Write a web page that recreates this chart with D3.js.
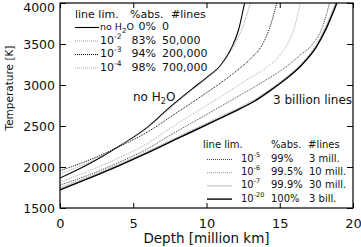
<!DOCTYPE html>
<html>
<head>
<meta charset="utf-8">
<script src="https://cdn.jsdelivr.net/npm/d3@7"></script>
<style>
  body { margin: 0; background: #fff; }
  text { font-family: "DejaVu Sans", sans-serif; fill: #111; }
</style>
</head>
<body>
<script>
// depth [million km], temperature [K]
const noH2O  = [[0,1866],[2,2040],[4,2250],[6,2490],[7.5,2730],[9,2950],[10,3090],[11,3250],[11.7,3450],[12.2,3680],[12.6,4000]];
const lim1e2 = [[0,1915],[2,2060],[4,2250],[6,2480],[7.5,2715],[9,2935],[10,3075],[11,3240],[11.8,3460],[12.5,3720],[13.0,4000]];
const lim1e3 = [[0,1955],[2,2085],[4,2245],[6,2430],[7.5,2605],[9,2785],[10,2905],[11,3030],[12,3165],[13,3320],[13.8,3490],[14.3,3690],[14.8,4000]];
const lim1e4 = [[0,1817],[2,1955],[4,2110],[6,2290],[7.5,2470],[9,2640],[10,2750],[11,2860],[12,2975],[13,3090],[14.3,3240],[15,3360],[15.5,3490],[16,3700],[16.4,4000]];
const lim1e5 = [[0,1780],[2,1905],[4,2055],[6,2225],[7.5,2385],[10,2640],[12,2845],[14,3055],[15.5,3230],[16.5,3380],[17.2,3490],[17.9,3700],[18.4,4000]];
const lim1e6 = [[0,1750],[2,1885],[4,2035],[6,2195],[8,2365],[10,2535],[12,2705],[13.3,2825],[14.3,2945],[15.5,3105],[16.5,3265],[17.4,3470],[18.1,3700],[18.8,4000]];
const lim1e7 = [[0,1735],[2,1875],[4,2025],[6,2185],[8,2355],[10,2525],[12,2695],[13.3,2815],[14.3,2935],[15.5,3095],[16.5,3255],[17.5,3475],[18.15,3700],[18.85,4000]];
const lim1e20 = [[0,1720],[2,1865],[4,2015],[6,2175],[8,2345],[10,2515],[12,2685],[13.3,2805],[14.3,2925],[15.5,3085],[16.5,3245],[17.5,3465],[18.2,3700],[18.9,4000]];

const xTicks = [0, 5, 10, 15, 20];
const yTicks = [1500, 2000, 2500, 3000, 3500, 4000];

// legend columns
const topExp = [null, "-2", "-3", "-4"];
const topAbs = ["0%", "83%", "94%", "98%"];
const topLines = ["0", "50,000", "200,000", "700,000"];
const botExp = ["-5", "-6", "-7", "-20"];
const botAbs = ["99%", "99.5%", "99.9%", "100%"];
const botLines = ["3 mill.", "10 mill.", "30 mill.", "3 bill."];

const series = [noH2O, lim1e2, lim1e3, lim1e4, lim1e5, lim1e6, lim1e7, lim1e20];
const styles = [
  {stroke: "#000", width: 1.1, dash: null},
  {stroke: "#999", width: 1, dash: "1,1"},
  {stroke: "#000", width: 1, dash: "1,1"},
  {stroke: "#aaa", width: 1, dash: "1,1"},
  {stroke: "#444", width: 1, dash: "1,1"},
  {stroke: "#999", width: 1, dash: "1,1"},
  {stroke: "#bbb", width: 1, dash: null},
  {stroke: "#000", width: 1.4, dash: null}
];

const W = 361, H = 247;
const pL = 60, pR = 353, pT = 3, pB = 208;

const svg = d3.select("body").append("svg")
  .attr("width", W).attr("height", H);

const x = d3.scaleLinear().domain([0, 20]).range([pL, pR]);
const y = d3.scaleLinear().domain([1500, 4000]).range([pB, pT]);

svg.append("clipPath").attr("id", "clip")
  .append("rect").attr("x", pL).attr("y", pT)
  .attr("width", pR - pL).attr("height", pB - pT);

const line = d3.line()
  .x(d => x(d[0]))
  .y(d => y(d[1]))
  .curve(d3.curveMonotoneX);

svg.append("g").attr("clip-path", "url(#clip)")
  .selectAll("path").data(series).join("path")
  .attr("d", line)
  .attr("fill", "none")
  .attr("stroke", (d, i) => styles[i].stroke)
  .attr("stroke-width", (d, i) => styles[i].width)
  .attr("stroke-dasharray", (d, i) => styles[i].dash);

// axes, ticks inside, mirrored on top and right
const fmt = d3.format("d");
svg.append("g").attr("transform", `translate(0,${pB})`)
  .call(d3.axisBottom(x).tickValues(xTicks).tickFormat(fmt).tickSizeInner(-5).tickSizeOuter(0).tickPadding(11))
  .call(g => g.selectAll("text").attr("font-size", 13));
svg.append("g").attr("transform", `translate(0,${pT})`)
  .call(d3.axisTop(x).tickValues(xTicks).tickSizeInner(-5).tickSizeOuter(0).tickFormat(""));
svg.append("g").attr("transform", `translate(${pL},0)`)
  .call(d3.axisLeft(y).tickValues(yTicks).tickFormat(fmt).tickSizeInner(-6).tickSizeOuter(0).tickPadding(5))
  .call(g => g.selectAll("text").attr("font-size", 12.5)
    .attr("dy", d => d === 4000 ? "0.65em" : "0.35em"));
svg.append("g").attr("transform", `translate(${pR},0)`)
  .call(d3.axisRight(y).tickValues(yTicks).tickSizeInner(-6).tickSizeOuter(0).tickFormat(""));

svg.selectAll(".domain").remove();
svg.selectAll(".tick line").attr("stroke", "#000");
svg.selectAll(".tick text").attr("fill", "#111");

svg.append("rect")
  .attr("x", pL).attr("y", pT)
  .attr("width", pR - pL).attr("height", pB - pT)
  .attr("fill", "none").attr("stroke", "#000").attr("stroke-width", 1.2);

svg.append("text")
  .attr("x", (pL + pR) / 2).attr("y", 243)
  .attr("text-anchor", "middle").attr("font-size", 13.5)
  .text("Depth [million km]");
svg.append("text")
  .attr("transform", "translate(13,88) rotate(-90)")
  .attr("text-anchor", "middle").attr("font-size", 10.5)
  .text("Temperature [K]");

// labels inside the plot
const lbl = svg.append("text").attr("x", 133).attr("y", 101).attr("font-size", 12);
lbl.append("tspan").text("no H");
lbl.append("tspan").attr("font-size", 8).attr("dy", 3).text("2");
lbl.append("tspan").attr("dy", -3).text("O");

svg.append("text").attr("x", 273).attr("y", 104).attr("font-size", 12)
  .text("3 billion lines");

function limitLabel(sel, exp, fs) {
  if (exp === null) {
    sel.attr("font-size", fs - 1.5);
    sel.append("tspan").text("no H");
    sel.append("tspan").attr("font-size", fs - 4).attr("dy", 3).text("2");
    sel.append("tspan").attr("dy", -3).text("O");
  } else {
    sel.append("tspan").text("10");
    sel.append("tspan").attr("font-size", fs - 3.5).attr("dy", -5).text(exp);
  }
}

function legend(cfg) {
  const fs = cfg.fs;
  const g = svg.append("g");
  g.append("text").attr("x", cfg.hx[0]).attr("y", cfg.hy).attr("font-size", fs).text("line lim.");
  g.append("text").attr("x", cfg.hx[1]).attr("y", cfg.hy).attr("font-size", fs).text("%abs.");
  g.append("text").attr("x", cfg.hx[2]).attr("y", cfg.hy).attr("font-size", fs).text("#lines");
  cfg.exp.forEach((e, i) => {
    const by = cfg.y0 + i * cfg.dy;
    const st = styles[cfg.offset + i];
    g.append("line")
      .attr("x1", cfg.seg[0]).attr("x2", cfg.seg[1])
      .attr("y1", by - 2.5).attr("y2", by - 2.5)
      .attr("stroke", st.stroke).attr("stroke-width", st.width)
      .attr("stroke-dasharray", st.dash);
    const t = g.append("text").attr("x", cfg.lx).attr("y", by).attr("font-size", fs);
    limitLabel(t, e, fs);
    g.append("text").attr("x", cfg.ax).attr("y", by).attr("font-size", fs)
      .attr("text-anchor", cfg.aAnchor).text(cfg.abs[i]);
    g.append("text").attr("x", cfg.nx).attr("y", by).attr("font-size", fs)
      .text(cfg.lines[i]);
  });
}

legend({fs: 11, hx: [75, 130, 171], hy: 18, y0: 30, dy: 13.5, seg: [75, 99], lx: 100,
  ax: 156, aAnchor: "end", nx: 162, exp: topExp, abs: topAbs, lines: topLines, offset: 0});
legend({fs: 10, hx: [203, 271, 308], hy: 148, y0: 162, dy: 13.2, seg: [207, 232], lx: 241,
  ax: 271, aAnchor: "start", nx: 309, exp: botExp, abs: botAbs, lines: botLines, offset: 4});
</script>
</body>
</html>
